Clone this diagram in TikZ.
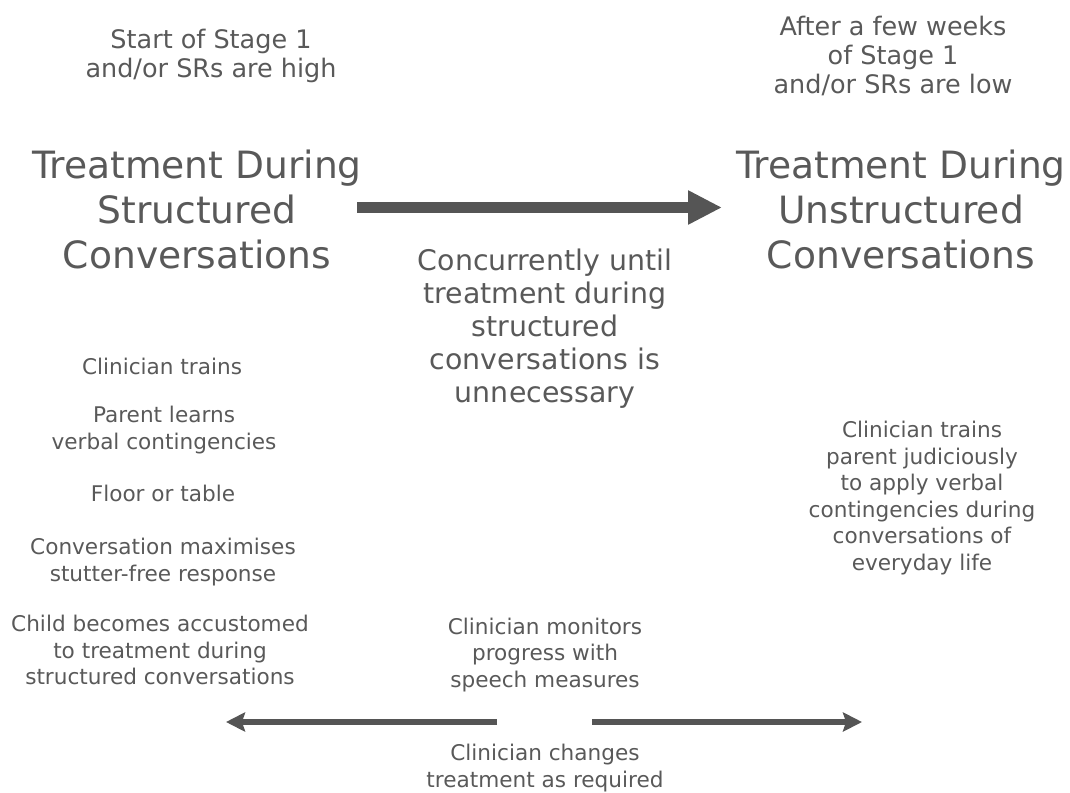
\documentclass[tikz,border=0pt]{standalone}
\usepackage{fontspec}
\setmainfont{DejaVu Sans}
\usetikzlibrary{arrows.meta}
\definecolor{txt}{HTML}{595959}
\definecolor{arr}{HTML}{555555}
\tikzset{
  lbl/.style={align=center, text=txt, inner sep=0pt},
  head/.style={lbl, font=\fontsize{37.6}{45}\selectfont},
  small/.style={lbl, font=\fontsize{21.6}{26.5}\selectfont},
  top/.style={lbl, font=\fontsize{25.5}{28.8}\selectfont},
  mid/.style={lbl, font=\fontsize{28.4}{33}\selectfont},
  bigarrow/.style={draw=arr, line width=11pt, -{Triangle[length=34pt,width=32pt]}},
  thinarrow/.style={draw=arr, line width=6.5pt, -{Stealth[length=19pt,width=19pt,inset=3pt]}}
}
\begin{document}
\begin{tikzpicture}[x=1pt,y=1pt]
\useasboundingbox (0,0) rectangle (1070,-792);
\node[top] (tl) at (211,-56) {Start of Stage 1\\and/or SRs are high};
\node[top] (tr) at (893,-56) {After a few weeks\\of Stage 1\\and/or SRs are low};
\node[head] (hl) at (197,-209) {Treatment During\\Structured\\Conversations};
\node[head] (hr) at (901,-209) {Treatment During\\Unstructured\\Conversations};
\node[mid] (conc) at (545,-329) {Concurrently until\\treatment during\\structured\\conversations is\\unnecessary};
\node[small] (l1) at (162,-366) {Clinician trains};
\node[small] (l2) at (164,-430) {Parent learns\\verbal contingencies};
\node[small] (l3) at (163,-493) {Floor or table};
\node[small] (l4) at (163,-562) {Conversation maximises\\stutter-free response};
\node[small] (l5) at (160,-650) {Child becomes accustomed\\to treatment during\\structured conversations};
\node[small] (r1) at (922,-498) {Clinician trains\\parent judiciously\\to apply verbal\\contingencies during\\conversations of\\everyday life};
\node[small] (mon) at (545,-655) {Clinician monitors\\progress with\\speech measures};
\node[small] (chg) at (545,-768) {Clinician changes\\treatment as required};
\coordinate (a1) at (357,-207.5);
\coordinate (a2) at (722,-207.5);
\draw[bigarrow] (a1) -- (a2);
\coordinate (b1) at (497,-722);
\coordinate (b2) at (226,-722);
\coordinate (c1) at (592,-722);
\coordinate (c2) at (862,-722);
\draw[thinarrow] (b1) -- (b2);
\draw[thinarrow] (c1) -- (c2);
\end{tikzpicture}
\end{document}
